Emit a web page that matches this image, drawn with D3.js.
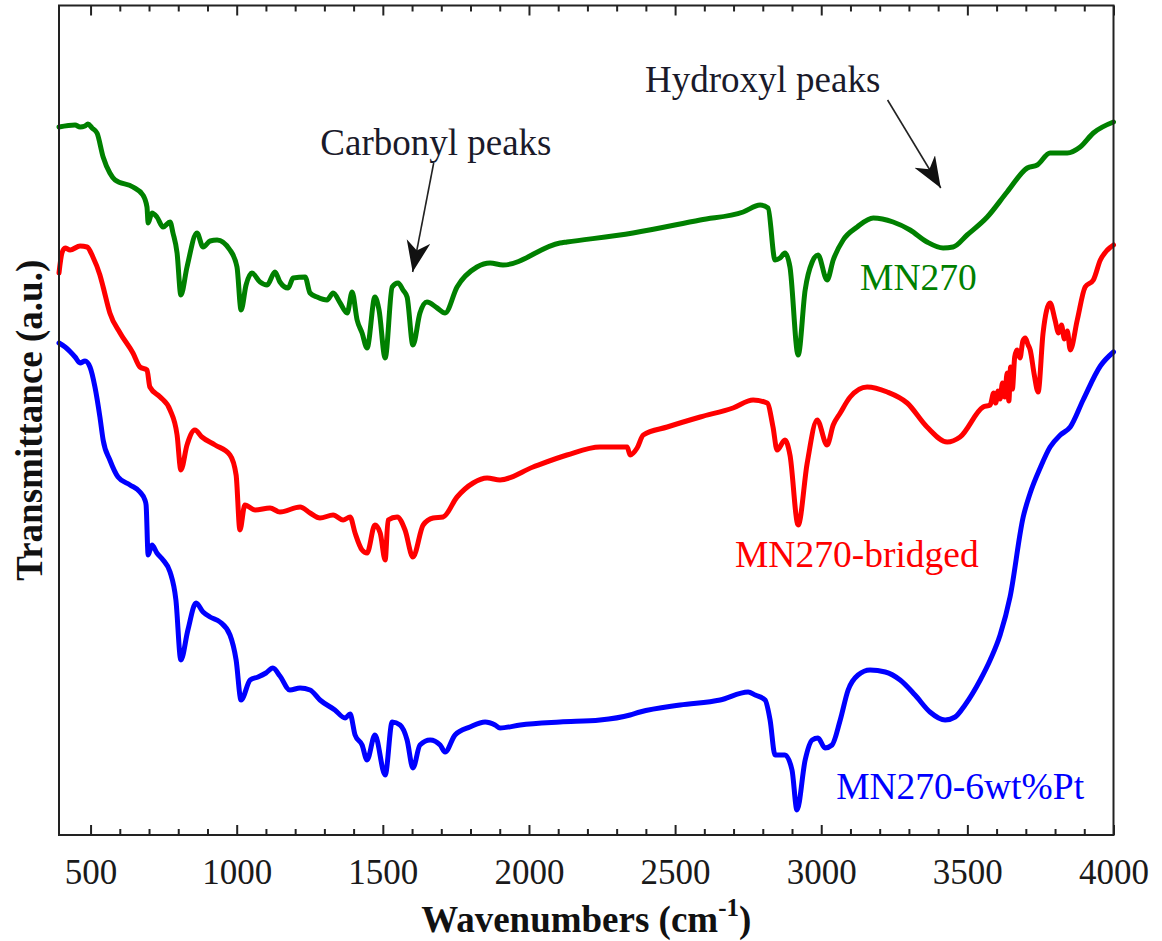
<!DOCTYPE html>
<html>
<head>
<meta charset="utf-8">
<script src="https://cdn.jsdelivr.net/npm/d3@7"></script>
<style>
  html, body { margin: 0; padding: 0; background: #fff; }
  svg { display: block; }
</style>
</head>
<body>
<svg id="chart" width="1162" height="941"></svg>
<script>
// FTIR spectra: [wavenumber (cm^-1), transmittance (a.u., vertically offset)]
const mn270 = [
  [392,70.8],[447,71.0],[464,70.8],[481,70.9],[491,71.1],[505,70.7],[522,70.2],[543,67.8],[566,66.2],[584,65.5],
  [645,64.8],[679,64.0],[693,62.8],[697,61.2],[710,62.2],[727,61.8],[748,60.8],[772,61.3],[782,60.2],[796,58.2],
  [809,54.0],[830,56.8],[864,60.2],[885,58.8],[909,59.4],[933,59.5],[977,58.5],[1001,56.8],[1015,52.5],[1032,55.0],
  [1052,56.2],[1080,55.3],[1104,55.0],[1131,56.3],[1148,55.3],[1176,54.7],[1193,55.7],[1234,55.8],[1251,54.2],[1275,53.8],
  [1309,53.5],[1330,54.2],[1354,53.2],[1378,52.2],[1395,54.3],[1412,51.5],[1429,50.2],[1446,48.7],[1473,53.8],[1487,52.5],
  [1508,47.7],[1532,54.8],[1552,55.2],[1569,54.5],[1583,53.8],[1603,49.0],[1627,52.2],[1651,53.3],[1686,52.7],[1713,52.2],
  [1754,54.8],[1822,56.8],[1867,57.2],[1911,57.0],[2106,59.2],[2130,59.3],[2356,60.2],[2586,61.5],[2733,62.3],[2791,63.0],
  [2818,62.7],[2842,57.5],[2859,57.7],[2876,58.2],[2893,56.8],[2921,48.0],[2945,54.5],[2969,57.3],[2989,58.0],[3020,55.5],
  [3041,57.5],[3075,59.5],[3123,60.8],[3178,61.7],[3246,61.3],[3304,60.5],[3362,59.3],[3417,58.7],[3451,58.8],[3499,60.0],
  [3568,61.8],[3636,64.3],[3705,66.7],[3739,67.0],[3783,68.2],[3842,68.2],[3886,68.8],[3931,70.2],[4000,71.3]
];

const mn270Bridged = [
  [392,56.2],[402,58.2],[413,58.7],[430,58.5],[464,58.9],[488,58.8],[508,57.8],[532,56.0],[543,54.8],[566,52.2],
  [601,50.2],[645,48.2],[669,46.8],[693,46.5],[703,44.8],[738,43.8],[772,42.5],[796,40.0],[809,36.5],[830,39.0],
  [857,40.5],[881,39.8],[926,39.0],[977,38.0],[998,36.0],[1011,30.5],[1028,33.0],[1063,32.5],[1114,32.7],[1148,32.3],
  [1217,32.8],[1251,32.2],[1285,31.7],[1330,32.0],[1364,31.5],[1388,31.8],[1405,30.2],[1429,28.5],[1446,28.2],[1473,31.0],
  [1491,30.2],[1508,27.5],[1518,31.5],[1549,31.8],[1576,30.5],[1603,27.8],[1638,31.0],[1672,31.7],[1706,31.8],[1754,33.8],
  [1809,35.2],[1857,35.7],[1901,35.5],[2014,36.8],[2130,38.0],[2243,38.8],[2336,38.8],[2346,38.0],[2370,38.7],[2391,40.0],
  [2473,40.8],[2586,41.8],[2698,42.7],[2767,43.5],[2815,43.2],[2835,40.8],[2849,38.5],[2876,39.5],[2893,38.0],[2921,31.0],
  [2952,37.2],[2986,41.5],[3020,39.0],[3041,41.0],[3065,42.2],[3099,43.8],[3157,44.8],[3226,44.3],[3294,43.2],[3362,40.8],
  [3431,39.3],[3475,39.8],[3554,42.8],[3578,43.0],[3590,44.2],[3597,43.2],[3605,44.4],[3612,43.6],[3620,45.2],[3628,43.8],
  [3636,46.2],[3642,43.4],[3648,46.8],[3654,44.6],[3662,47.8],[3670,48.5],[3680,47.7],[3690,49.4],[3698,49.7],[3708,49.0],
  [3715,48.5],[3729,46.0],[3742,44.3],[3759,50.2],[3783,53.2],[3800,51.5],[3812,50.2],[3822,51.0],[3832,49.6],[3842,50.4],
  [3852,48.5],[3876,51.5],[3903,54.8],[3931,55.5],[3955,57.5],[3979,58.5],[4000,59.0]
];

const mn270Pt = [
  [392,49.2],[413,48.8],[447,47.8],[464,47.2],[481,47.4],[498,46.8],[515,44.8],[532,41.8],[543,39.5],[566,37.5],
  [594,35.8],[635,35.0],[669,34.3],[686,33.5],[690,33.0],[697,28.0],[710,29.0],[727,28.2],[748,27.5],[772,26.3],
  [792,23.5],[809,17.5],[833,20.5],[861,23.2],[885,22.3],[909,21.8],[943,21.3],[977,20.0],[998,17.5],[1015,13.5],
  [1046,15.5],[1073,15.8],[1100,16.2],[1124,16.7],[1148,15.9],[1182,14.5],[1217,14.7],[1251,14.5],[1285,13.5],[1336,12.5],
  [1371,11.7],[1388,12.1],[1405,10.0],[1429,9.0],[1446,7.5],[1473,10.0],[1508,6.0],[1532,11.3],[1559,11.0],[1583,9.5],
  [1603,6.7],[1627,9.0],[1662,9.5],[1696,9.0],[1713,8.3],[1747,10.0],[1798,10.8],[1850,11.3],[1884,11.0],[1901,10.7],
  [1970,11.0],[2106,11.3],[2243,11.5],[2346,12.0],[2380,12.3],[2517,13.0],[2654,13.5],[2750,14.3],[2774,14.0],[2808,13.5],
  [2825,11.5],[2842,8.0],[2876,8.0],[2900,6.5],[2917,2.5],[2945,7.5],[2969,9.5],[2989,9.7],[3013,8.7],[3037,9.0],
  [3065,11.5],[3092,14.5],[3126,16.0],[3167,16.5],[3219,16.3],[3270,15.5],[3321,14.0],[3372,12.3],[3424,11.5],[3458,11.8],
  [3492,13.0],[3544,15.5],[3578,17.5],[3612,20.0],[3646,23.8],[3691,31.8],[3715,34.2],[3749,36.7],[3783,38.8],[3818,40.0],
  [3852,40.8],[3896,43.5],[3955,46.9],[4000,48.3]
];

const seriesNames = ["MN270", "MN270-bridged", "MN270-6wt%Pt"];
const seriesColors = ["#008000", "#ff0000", "#0000ff"];
const seriesData = [mn270, mn270Bridged, mn270Pt];

const majorTicks = [500, 1000, 1500, 2000, 2500, 3000, 3500, 4000];
const minorTicks = d3.range(500, 4000, 100).filter(v => v % 500 !== 0);

// label anchors in data units [wavenumber, transmittance]
const seriesLabelPos = [[3133, 54.5], [2705, 26.8], [3051, 3.6]];
const annotations = [
  { text: "Carbonyl peaks", at: [1286, 68.0], from: [1674, 67.2], to: [1602, 56.3] },
  { text: "Hydroxyl peaks", at: [2397, 74.3], from: [3227, 73.5], to: [3409, 64.7] }
];

const W = 1162, H = 941;
const plot = { left: 59, right: 1113.5, top: 5.5, bottom: 835 };

const svg = d3.select("#chart");
svg.append("rect").attr("width", W).attr("height", H).attr("fill", "#fff");

const x = d3.scaleLinear().domain([392, 4000]).range([plot.left, plot.right]);
const y = d3.scaleLinear().domain([0, 82.95]).range([plot.bottom, plot.top]);

const serif = "'Liberation Serif', 'Times New Roman', serif";

// arrowhead
svg.append("defs").append("marker")
  .attr("id", "head")
  .attr("markerUnits", "userSpaceOnUse")
  .attr("markerWidth", 34).attr("markerHeight", 26)
  .attr("refX", 31).attr("refY", 12)
  .attr("orient", "auto")
  .append("path")
  .attr("d", "M31,12 L0,0 L9,12 L0,24 Z")
  .attr("fill", "#111");

// spectra
const line = d3.line().curve(d3.curveMonotoneX).x(d => x(d[0])).y(d => y(d[1]));
seriesData.forEach((data, i) => {
  svg.append("path")
    .datum(data)
    .attr("d", line)
    .attr("fill", "none")
    .attr("stroke", seriesColors[i])
    .attr("stroke-width", 5)
    .attr("stroke-linejoin", "round")
    .attr("stroke-linecap", "round");
});

// frame
svg.append("rect")
  .attr("x", plot.left).attr("y", plot.top)
  .attr("width", plot.right - plot.left).attr("height", plot.bottom - plot.top)
  .attr("fill", "none").attr("stroke", "#222").attr("stroke-width", 2);

// bottom axis: inward ticks with labels
const bottomAxis = svg.append("g").attr("transform", `translate(0,${plot.bottom})`);
bottomAxis.call(d3.axisBottom(x).tickValues(majorTicks).tickSizeInner(-10).tickSizeOuter(0).tickPadding(24).tickFormat(d3.format("d")));
bottomAxis.append("g").call(d3.axisBottom(x).tickValues(minorTicks).tickSizeInner(-6).tickSizeOuter(0).tickFormat(""));
bottomAxis.selectAll(".domain").remove();
bottomAxis.selectAll("line").attr("stroke", "#222").attr("stroke-width", 2);
bottomAxis.selectAll("text")
  .attr("font-family", serif).attr("font-size", 35).attr("fill", "#1a1a1a");

// top axis: mirrored inward ticks, no labels
const topAxis = svg.append("g").attr("transform", `translate(0,${plot.top})`);
topAxis.call(d3.axisTop(x).tickValues(majorTicks).tickSizeInner(-10).tickSizeOuter(0).tickFormat(""));
topAxis.append("g").call(d3.axisTop(x).tickValues(minorTicks).tickSizeInner(-6).tickSizeOuter(0).tickFormat(""));
topAxis.selectAll(".domain").remove();
topAxis.selectAll("line").attr("stroke", "#222").attr("stroke-width", 2);

// axis titles
const xt = svg.append("text")
  .attr("x", (plot.left + plot.right) / 2).attr("y", 932)
  .attr("text-anchor", "middle")
  .attr("font-family", serif).attr("font-weight", "bold").attr("font-size", 37).attr("fill", "#111");
xt.append("tspan").text("Wavenumbers (cm");
xt.append("tspan").attr("dy", -16).attr("font-size", 25).text("-1");
xt.append("tspan").attr("dy", 16).text(")");

svg.append("text")
  .attr("transform", `translate(42,${(plot.top + plot.bottom) / 2}) rotate(-90)`)
  .attr("text-anchor", "middle")
  .attr("font-family", serif).attr("font-weight", "bold").attr("font-size", 37).attr("fill", "#111")
  .text("Transmittance (a.u.)");

// series labels
seriesNames.forEach((name, i) => {
  svg.append("text")
    .attr("x", x(seriesLabelPos[i][0])).attr("y", y(seriesLabelPos[i][1]))
    .attr("font-family", serif).attr("font-size", 37.5).attr("fill", seriesColors[i])
    .text(name);
});

// annotations with arrows
annotations.forEach(a => {
  svg.append("text")
    .attr("x", x(a.at[0])).attr("y", y(a.at[1]))
    .attr("font-family", serif).attr("font-size", 37).attr("fill", "#1a1a2a")
    .text(a.text);
  svg.append("line")
    .attr("x1", x(a.from[0])).attr("y1", y(a.from[1]))
    .attr("x2", x(a.to[0])).attr("y2", y(a.to[1]))
    .attr("stroke", "#222").attr("stroke-width", 1.6)
    .attr("marker-end", "url(#head)");
});
</script>
</body>
</html>
